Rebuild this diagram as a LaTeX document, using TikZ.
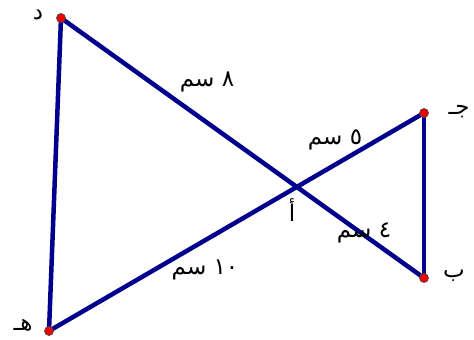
\documentclass[tikz,border=0pt]{standalone}
\usepackage{fontspec}
\newfontfamily\arabicfont[Script=Arabic]{DejaVu Sans}
\TeXXeTstate=1
\definecolor{linenavy}{RGB}{0,0,140}
\definecolor{dotred}{RGB}{240,0,0}
\tikzset{
  side/.style={draw=linenavy, line width=4.5pt, line cap=round},
  vertex/.style={circle, fill=dotred, draw=black!70, line width=0.7pt, minimum size=9pt, inner sep=0pt},
  lbl/.style={font=\arabicfont\fontsize{23}{26}\selectfont, inner sep=1pt}
}
\begin{document}
\begin{tikzpicture}[x=1pt, y=-1pt]
  \useasboundingbox (0,0) rectangle (474,340);
  % الرؤوس
  \coordinate (D) at (61,18);
  \coordinate (J) at (424,113);
  \coordinate (B) at (424,278);
  \coordinate (H) at (49,331);
  % الأضلاع
  \draw[side] (D) -- (B);
  \draw[side] (H) -- (J);
  \draw[side] (D) -- (H);
  \draw[side] (J) -- (B);
  \node[vertex] (d) at (D) {};
  \node[vertex] (j) at (J) {};
  \node[vertex] (b) at (B) {};
  \node[vertex] (h) at (H) {};
  % أسماء النقاط
  \node[lbl] (dl) at (38,15) {\beginR د\endR};
  \node[lbl] (jl) at (459,112) {\beginR جـ\endR};
  \node[lbl] (bl) at (454,276) {\beginR ب\endR};
  \node[lbl] (hl) at (23,325) {\beginR هـ\endR};
  \node[lbl] (al) at (292,210) {\beginR أ\endR};
  % الأطوال
  \node[lbl] (l8) at (207,82) {\beginR ٨ سم\endR};
  \node[lbl] (l5) at (335,140) {\beginR ٥ سم\endR};
  \node[lbl] (l4) at (364,233) {\beginR ٤ سم\endR};
  \node[lbl] (l10) at (205,270) {\beginR ١٠ سم\endR};
\end{tikzpicture}
\end{document}
